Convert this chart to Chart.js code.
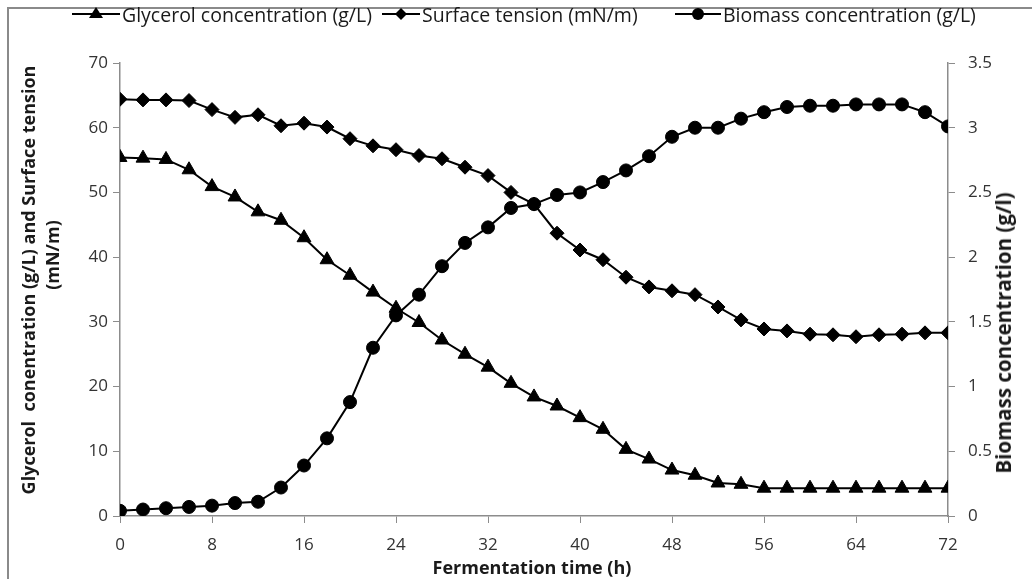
<!DOCTYPE html>
<html>
<head>
<meta charset="utf-8">
<script src="https://cdn.jsdelivr.net/npm/chart.js@4.4.1/dist/chart.umd.min.js"></script>
<style>
  html, body { margin: 0; padding: 0; background: #fff; }
  #wrap { position: relative; width: 1032px; height: 579px; overflow: hidden; background: #fff; font-family: "Open Sans", sans-serif; color: #1a1a1a; }
  #frame { position: absolute; left: 7px; top: 7px; width: 1100px; height: 700px; border: 2px solid #8a8a8a; box-sizing: border-box; }
  canvas { position: absolute; left: 0; top: 0; }
  .leg { position: absolute; top: 3px; height: 22px; display: flex; align-items: center; font-size: 19.5px; white-space: nowrap; }
  .leg svg { display: block; margin-right: 2px; }
  .title { position: absolute; font-weight: bold; font-size: 18px; white-space: nowrap; transform: translate(-50%, -50%); }
  .rot { transform: translate(-50%, -50%) rotate(-90deg); }
</style>
</head>
<body>
<div id="wrap">
  <div id="frame"></div>
  <canvas id="c" width="1032" height="579"></canvas>
  <div class="leg" style="left:72px">
    <svg width="48" height="18"><line x1="0" y1="9" x2="48" y2="9" stroke="#000" stroke-width="2"/><polygon points="24,2 31,13 17,13" fill="#000"/></svg>
    <span id="l1">Glycerol concentration (g/L)</span>
  </div>
  <div class="leg" style="left:382px">
    <svg width="38" height="18"><line x1="0" y1="9" x2="38" y2="9" stroke="#000" stroke-width="2"/><polygon points="19,3 25,9 19,15 13,9" fill="#000"/></svg>
    <span id="l2">Surface tension (mN/m)</span>
  </div>
  <div class="leg" style="left:675px">
    <svg width="46" height="18"><line x1="0" y1="9" x2="46" y2="9" stroke="#000" stroke-width="2"/><circle cx="23" cy="9" r="6" fill="#000"/></svg>
    <span id="l3">Biomass concentration (g/L)</span>
  </div>
  <div class="title rot" style="left:28px; top:280px;">Glycerol&nbsp; conentration (g/L) and Surface tension</div>
  <div class="title rot" style="left:52px; top:255px;">(mN/m)</div>
  <div class="title" style="left:532px; top:567px;">Fermentation time (h)</div>
  <div class="title rot" style="left:1003px; top:333px; font-size:20.5px;">Biomass concentration (g/l)</div>
</div>
<script>
// Fermentation time (h)
const times = [0,2,4,6,8,10,12,14,16,18,20,22,24,26,28,30,32,34,36,38,40,42,44,46,48,50,52,54,56,58,60,62,64,66,68,70,72];
// Glycerol concentration (g/L)
const glycerol = [55.4,55.3,55.1,53.5,50.9,49.3,47.0,45.7,43.0,39.6,37.2,34.6,32.1,29.9,27.2,25.0,23.0,20.5,18.4,17.0,15.2,13.4,10.3,8.8,7.1,6.3,5.1,4.9,4.3,4.3,4.3,4.3,4.3,4.3,4.3,4.3,4.3];
// Surface tension (mN/m)
const surfaceTension = [64.4,64.3,64.3,64.2,62.8,61.6,62.0,60.3,60.7,60.1,58.3,57.2,56.6,55.7,55.2,53.9,52.6,50.0,48.2,43.7,41.1,39.6,36.9,35.4,34.8,34.2,32.3,30.3,28.9,28.6,28.1,28.0,27.7,28.0,28.1,28.3,28.3];
// Biomass concentration (g/L)
const biomass = [0.04,0.05,0.06,0.07,0.08,0.10,0.11,0.22,0.39,0.60,0.88,1.30,1.55,1.71,1.93,2.11,2.23,2.38,2.41,2.48,2.50,2.58,2.67,2.78,2.93,3.00,3.00,3.07,3.12,3.16,3.17,3.17,3.18,3.18,3.18,3.12,3.01];
// Tick values and labels
const xTickValues = [0,8,16,24,32,40,48,56,64,72];
const leftTickValues = [0,10,20,30,40,50,60,70];
const rightTickValues = [0,0.5,1,1.5,2,2.5,3,3.5];
const rightTickLabels = ['0','0.5','1','1.5','2','2.5','3','3.5'];

const toPts = arr => times.map((t, i) => ({ x: t, y: arr[i] }));
const axisColor = '#8c8c8c';
const tickFont = { family: '"Open Sans", sans-serif', size: 17 };
const tickColor = '#333';

const common = { borderColor: '#000', backgroundColor: '#000', borderWidth: 2, pointBorderWidth: 1, pointBorderColor: '#000', pointBackgroundColor: '#000', tension: 0, fill: false };

new Chart(document.getElementById('c'), {
  type: 'line',
  data: {
    datasets: [
      Object.assign({ label: 'Glycerol concentration (g/L)', data: toPts(glycerol), yAxisID: 'yL', pointStyle: 'triangle', pointRadius: 8 }, common),
      Object.assign({ label: 'Surface tension (mN/m)', data: toPts(surfaceTension), yAxisID: 'yL', pointStyle: 'rectRot', pointRadius: 7 }, common),
      Object.assign({ label: 'Biomass concentration (g/L)', data: toPts(biomass), yAxisID: 'yR', pointStyle: 'circle', pointRadius: 6.5 }, common)
    ]
  },
  options: {
    responsive: false,
    animation: false,
    devicePixelRatio: 1,
    layout: { padding: { top: 63, left: 0, right: 0, bottom: 0 } },
    plugins: { legend: { display: false }, tooltip: { enabled: false } },
    scales: {
      x: {
        type: 'linear', min: 0, max: 72,
        afterFit: s => { s.height = 63; },
        afterBuildTicks: s => { s.ticks = xTickValues.map(v => ({ value: v })); },
        grid: { drawOnChartArea: false, drawTicks: true, tickLength: 7, color: axisColor, lineWidth: 1 },
        border: { display: true, color: axisColor, width: 1.5 },
        ticks: { font: tickFont, color: tickColor, padding: 12, maxRotation: 0 }
      },
      yL: {
        type: 'linear', position: 'left', min: 0, max: 70,
        afterFit: s => { s.width = 120; },
        afterBuildTicks: s => { s.ticks = leftTickValues.map(v => ({ value: v })); },
        grid: { drawOnChartArea: false, drawTicks: true, tickLength: 7, color: axisColor, lineWidth: 1 },
        border: { display: true, color: axisColor, width: 1.5 },
        ticks: { font: tickFont, color: tickColor, padding: 5 }
      },
      yR: {
        type: 'linear', position: 'right', min: 0, max: 3.5,
        afterFit: s => { s.width = 84; },
        afterBuildTicks: s => { s.ticks = rightTickValues.map(v => ({ value: v })); },
        grid: { drawOnChartArea: false, drawTicks: true, tickLength: 7, color: axisColor, lineWidth: 1 },
        border: { display: true, color: axisColor, width: 1.5 },
        ticks: { font: tickFont, color: tickColor, padding: 13,
          callback: (v) => rightTickLabels[rightTickValues.indexOf(v)] ?? String(v) }
      }
    }
  }
});
</script>
</body>
</html>
